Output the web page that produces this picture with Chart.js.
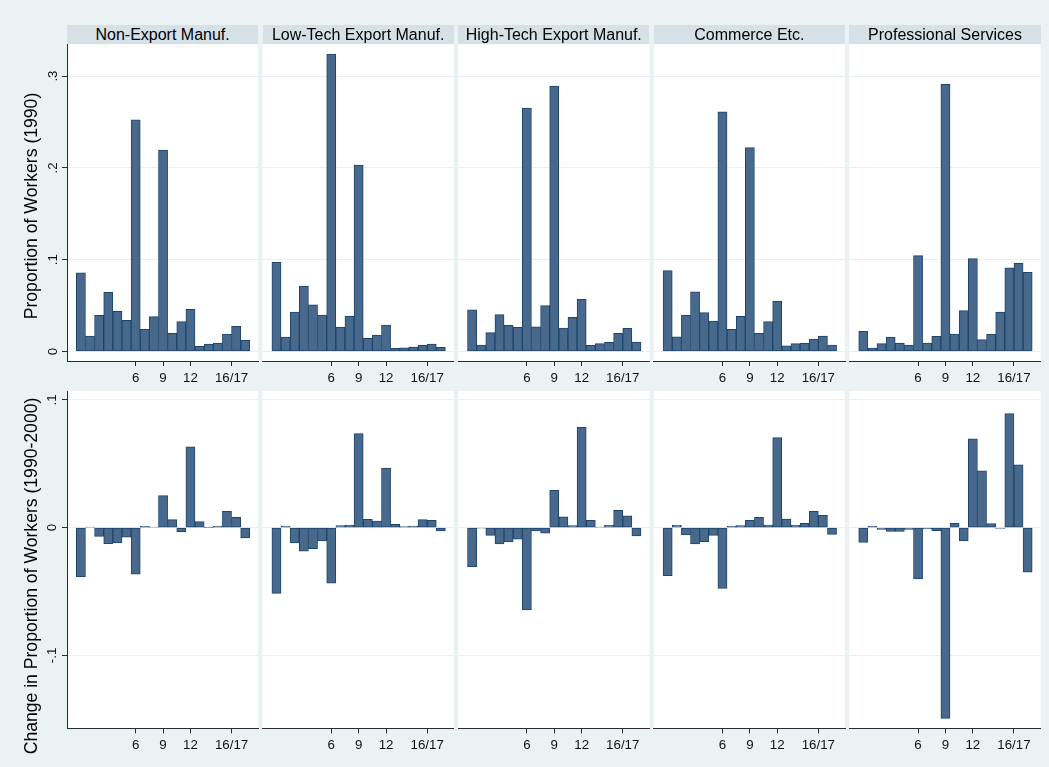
<!DOCTYPE html>
<html>
<head>
<meta charset="utf-8">
<script src="https://cdn.jsdelivr.net/npm/chart.js@4.4.1/dist/chart.umd.min.js"></script>
<style>
  html, body { margin: 0; padding: 0; background: #eaf2f3; }
  #fig { position: relative; width: 1049px; height: 767px; background: #eaf2f3; overflow: hidden;
         font-family: "Liberation Sans", Arial, Helvetica, sans-serif; }
  #fig canvas { position: absolute; }
  .strip { position: absolute; background: #d5e1e7; color: #000; font-size: 16px; text-align: center; white-space: nowrap; z-index: 2; }
  .ytitle { position: absolute; color: #000; font-size: 17.6px; white-space: nowrap; z-index: 2;
            transform: translate(-50%, -50%) rotate(-90deg); }
</style>
</head>
<body>
<div id="fig"></div>
<script>
// Schooling groups 0..18 on the horizontal axis
const categories = [0, 1, 2, 3, 4, 5, 6, 7, 8, 9, 10, 11, 12, 13, 14, 15, 16, 17, 18];
const sectorNames = ['Non-Export Manuf.', 'Low-Tech Export Manuf.', 'High-Tech Export Manuf.', 'Commerce Etc.', 'Professional Services'];

// Proportion of workers in each group, 1990
const share1990NonExport = [0.0858, 0.0169, 0.0394, 0.0645, 0.0438, 0.0340, 0.2522, 0.0242, 0.0379, 0.2195, 0.0198, 0.0325, 0.0460, 0.0057, 0.0082, 0.0093, 0.0191, 0.0275, 0.0122];
const share1990LowTech   = [0.0972, 0.0158, 0.0430, 0.0713, 0.0507, 0.0398, 0.3240, 0.0267, 0.0383, 0.2030, 0.0144, 0.0180, 0.0289, 0.0035, 0.0041, 0.0049, 0.0067, 0.0082, 0.0046];
const share1990HighTech  = [0.0455, 0.0071, 0.0205, 0.0401, 0.0285, 0.0264, 0.2650, 0.0270, 0.0499, 0.2890, 0.0256, 0.0372, 0.0569, 0.0067, 0.0085, 0.0100, 0.0198, 0.0253, 0.0103];
const share1990Commerce  = [0.0880, 0.0161, 0.0394, 0.0651, 0.0423, 0.0332, 0.2610, 0.0242, 0.0383, 0.2220, 0.0198, 0.0325, 0.0550, 0.0063, 0.0085, 0.0093, 0.0136, 0.0169, 0.0071];
const share1990ProfServ  = [0.0220, 0.0038, 0.0085, 0.0158, 0.0093, 0.0071, 0.1044, 0.0093, 0.0166, 0.2910, 0.0191, 0.0445, 0.1011, 0.0129, 0.0187, 0.0430, 0.0910, 0.0961, 0.0863];

// Change in proportion of workers, 1990-2000
const change9000NonExport = [-0.0384, 0.0005, -0.0068, -0.0125, -0.0120, -0.0075, -0.0365, 0.0010, 0.0003, 0.0251, 0.0063, -0.0031, 0.0632, 0.0047, 0.0001, 0.0013, 0.0128, 0.0081, -0.0081];
const change9000LowTech   = [-0.0514, 0.0013, -0.0120, -0.0185, -0.0164, -0.0104, -0.0435, 0.0016, 0.0021, 0.0736, 0.0066, 0.0052, 0.0467, 0.0026, 0.0008, 0.0013, 0.0063, 0.0058, -0.0026];
const change9000HighTech  = [-0.0305, -0.0003, -0.0060, -0.0128, -0.0112, -0.0091, -0.0645, -0.0026, -0.0044, 0.0293, 0.0084, 0.0016, 0.0786, 0.0058, 0.0003, 0.0019, 0.0136, 0.0092, -0.0065];
const change9000Commerce  = [-0.0376, 0.0019, -0.0057, -0.0128, -0.0110, -0.0060, -0.0475, 0.0013, 0.0016, 0.0058, 0.0081, 0.0021, 0.0705, 0.0068, 0.0019, 0.0034, 0.0128, 0.0097, -0.0052];
const change9000ProfServ  = [-0.0115, 0.0013, -0.0013, -0.0029, -0.0029, -0.0013, -0.0402, -0.0010, -0.0023, -0.1493, 0.0034, -0.0104, 0.0695, 0.0444, 0.0031, -0.0005, 0.0893, 0.0491, -0.0349];

// Axis ticks
const xTickValues = [6, 9, 12, 16.5];
const xTickLabels = ['6', '9', '12', '16/17'];
const shareTickValues = [0, 0.1, 0.2, 0.3];
const shareTickLabels = ['0', '.1', '.2', '.3'];
const changeTickValues = [-0.1, 0, 0.1];
const changeTickLabels = ['-.1', '0', '.1'];
const yTitles = ['Proportion of Workers (1990)', 'Change in Proportion of Workers (1990-2000)'];

// ---- styling and geometry ----
const BAR_FILL = '#48698c';
const BAR_EDGE = '#1c456c';
const AXIS = '#2a2a2a';
const GRID = '#e8f0f2';
const TEXT = '#111111';
const X_MIN = -1.52, X_MAX = 19.42;
const PLOT_LEFT0 = 67, PLOT_STEP = 195.6, PLOT_W = 191.2;

Chart.defaults.font.family = '"Liberation Sans", Arial, Helvetica, sans-serif';

const rows = [
  { canvasTop: 0, canvasH: 386, plotTop: 44.3, plotBottom: 361, min: -0.01035, max: 0.3346,
    tickValues: shareTickValues, tickLabels: shareTickLabels, yPad: 3.5, titleY: 205.8,
    series: [share1990NonExport, share1990LowTech, share1990HighTech, share1990Commerce, share1990ProfServ] },
  { canvasTop: 386, canvasH: 381, plotTop: 391, plotBottom: 728.3, min: -0.1571, max: 0.1070,
    tickValues: changeTickValues, tickLabels: changeTickLabels, yPad: 2.3, titleY: 576,
    series: [change9000NonExport, change9000LowTech, change9000HighTech, change9000Commerce, change9000ProfServ] }
];

const fig = document.getElementById('fig');

// white plot region behind grid and bars
const plotBackground = {
  id: 'plotBackground',
  beforeDraw(chart) {
    const a = chart.chartArea, ctx = chart.ctx;
    ctx.save();
    ctx.fillStyle = '#ffffff';
    ctx.fillRect(a.left, a.top, a.right - a.left, a.bottom - a.top);
    ctx.restore();
  }
};

function drawPanel(row, rowIndex, col) {
  const left = PLOT_LEFT0 + col * PLOT_STEP;
  const cLeft = col === 0 ? 0 : Math.floor(left) - 2;
  const cRight = Math.ceil(left + PLOT_W) + 2;
  const cv = document.createElement('canvas');
  cv.width = cRight - cLeft;
  cv.height = row.canvasH;
  cv.style.left = cLeft + 'px';
  cv.style.top = row.canvasTop + 'px';
  fig.appendChild(cv);

  const yAxisW = col === 0 ? left - cLeft : 0;
  const padLeft = col === 0 ? 0 : left - cLeft;
  const padRight = cRight - (left + PLOT_W);
  const first = col === 0;

  new Chart(cv, {
    type: 'bar',
    data: {
      datasets: [{
        data: row.series[col].map((v, i) => ({ x: categories[i], y: v })),
        backgroundColor: BAR_FILL,
        borderColor: BAR_EDGE,
        borderWidth: 1,
        borderSkipped: false,
        barPercentage: 1,
        categoryPercentage: 1
      }]
    },
    options: {
      responsive: false,
      animation: false,
      devicePixelRatio: 1,
      layout: { padding: { left: padLeft, right: padRight, top: row.plotTop - row.canvasTop, bottom: 0 } },
      plugins: { legend: { display: false }, tooltip: { enabled: false }, title: { display: false } },
      scales: {
        x: {
          type: 'linear', min: X_MIN, max: X_MAX, offset: false,
          afterBuildTicks: s => { s.ticks = xTickValues.map(v => ({ value: v })); },
          afterFit: s => { s.height = row.canvasTop + row.canvasH - row.plotBottom; s.paddingLeft = 0; s.paddingRight = 0; },
          grid: { offset: false, drawOnChartArea: false, drawTicks: true, tickLength: 5, tickColor: AXIS, tickWidth: 1 },
          border: { display: true, color: AXIS, width: 1 },
          ticks: { autoSkip: false, maxRotation: 0, minRotation: 0, padding: 4, color: TEXT, font: { size: 13.3 },
                   callback: (v, i) => xTickLabels[i] }
        },
        y: {
          type: 'linear', min: row.min, max: row.max,
          afterBuildTicks: s => { s.ticks = row.tickValues.map(v => ({ value: v })); },
          afterFit: s => { s.width = yAxisW; s.paddingTop = 0; s.paddingBottom = 0; },
          grid: { color: GRID, lineWidth: 1, drawTicks: first, tickLength: 5, tickColor: AXIS, tickWidth: 1 },
          border: { display: first, color: AXIS, width: 1 },
          ticks: { display: first, minRotation: 90, maxRotation: 90, crossAlign: 'center', padding: row.yPad,
                   color: TEXT, font: { size: 13.3 }, callback: (v, i) => row.tickLabels[i] }
        }
      }
    },
    plugins: [plotBackground]
  });
}

rows.forEach((row, r) => {
  for (let c = 0; c < sectorNames.length; c++) drawPanel(row, r, c);
  const t = document.createElement('div');
  t.className = 'ytitle';
  t.textContent = yTitles[r];
  t.style.left = '31px';
  t.style.top = row.titleY + 'px';
  fig.appendChild(t);
});

// sector name strips above the top row
sectorNames.forEach((name, c) => {
  const s = document.createElement('div');
  s.className = 'strip';
  s.textContent = name;
  s.style.left = (PLOT_LEFT0 + c * PLOT_STEP) + 'px';
  s.style.top = '25px';
  s.style.width = PLOT_W + 'px';
  s.style.height = '19.3px';
  s.style.lineHeight = '19.3px';
  fig.appendChild(s);
});
</script>
</body>
</html>
